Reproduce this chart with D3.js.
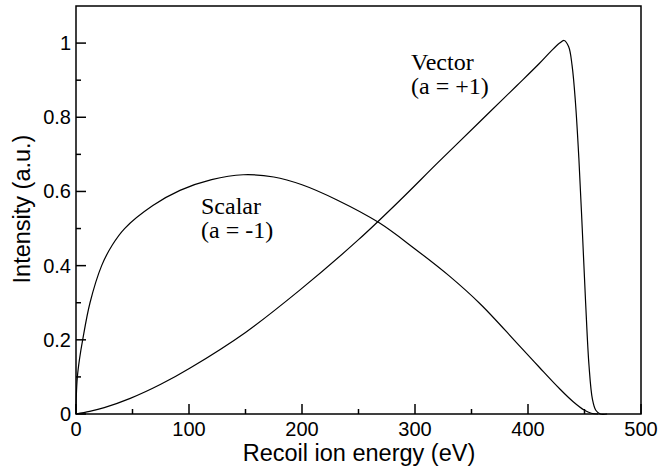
<!DOCTYPE html>
<html>
<head>
<meta charset="utf-8">
<script src="https://cdn.jsdelivr.net/npm/d3@7"></script>
<style>
  body { margin: 0; background: #fff; }
  svg { display: block; }
</style>
</head>
<body>
<svg width="661" height="470"></svg>
<script>
// recoil spectra
const scalarEnergy = [0, 0.3, 1.2, 3.2, 5.9, 12.4, 22.7, 32, 43, 68, 92, 120, 148, 175, 200, 231, 268, 300, 330, 358, 390, 410, 428, 440, 450, 456, 462];
const scalarIntensity = [0, 0.05, 0.1, 0.15, 0.2, 0.3, 0.4, 0.455, 0.5, 0.562, 0.603, 0.632, 0.645, 0.639, 0.618, 0.577, 0.516, 0.445, 0.373, 0.296, 0.192, 0.126, 0.068, 0.033, 0.01, 0.002, 0];

const vectorEnergy = [0, 12, 25, 48, 75, 101, 150, 198, 250, 287, 320, 358, 390, 410, 420, 428, 432, 436, 439, 442, 445, 448, 451, 454, 457, 460, 464, 470];
const vectorIntensity = [0, 0.007, 0.017, 0.042, 0.08, 0.124, 0.22, 0.334, 0.47, 0.577, 0.677, 0.79, 0.885, 0.945, 0.977, 1.0, 1.007, 0.99, 0.94, 0.84, 0.69, 0.5, 0.3, 0.13, 0.04, 0.01, 0, 0];

const xTicks = [0, 100, 200, 300, 400, 500];
const xMinor = [50, 150, 250, 350, 450];
const yTicks = [0, 0.2, 0.4, 0.6, 0.8, 1];
const yMinor = [0.1, 0.3, 0.5, 0.7, 0.9];

const svg = d3.select("svg");
const plotLeft = 76, plotRight = 641, plotTop = 6, plotBottom = 414;

const x = d3.scaleLinear().domain([0, 500]).range([plotLeft, plotRight]);
const y = d3.scaleLinear().domain([0, 1.1]).range([plotBottom, plotTop]);

const sans = "Liberation Sans, Arial, Helvetica, sans-serif";
const serif = "Liberation Serif, Times New Roman, serif";

// frame
svg.append("rect")
    .attr("x", plotLeft).attr("y", plotTop)
    .attr("width", plotRight - plotLeft).attr("height", plotBottom - plotTop)
    .attr("fill", "none")
    .attr("stroke", "#000")
    .attr("stroke-width", 1.5);

// ticks point inward
const tickGroup = svg.append("g")
    .attr("stroke", "#000")
    .attr("stroke-width", 1.5);

tickGroup.selectAll(".xt")
    .data(xTicks.map(v => [v, 10]).concat(xMinor.map(v => [v, 5])))
    .enter().append("line")
    .attr("x1", d => x(d[0])).attr("x2", d => x(d[0]))
    .attr("y1", plotBottom).attr("y2", d => plotBottom - d[1]);

tickGroup.selectAll(".yt")
    .data(yTicks.map(v => [v, 10]).concat(yMinor.map(v => [v, 5])))
    .enter().append("line")
    .attr("y1", d => y(d[0])).attr("y2", d => y(d[0]))
    .attr("x1", plotLeft).attr("x2", d => plotLeft + d[1]);

// tick labels
svg.append("g")
    .attr("font-family", sans)
    .attr("font-size", 20)
    .attr("text-anchor", "middle")
    .selectAll("text")
    .data(xTicks)
    .enter().append("text")
    .attr("x", d => x(d))
    .attr("y", 436)
    .text(d => d);

svg.append("g")
    .attr("font-family", sans)
    .attr("font-size", 20)
    .attr("text-anchor", "end")
    .selectAll("text")
    .data(yTicks)
    .enter().append("text")
    .attr("x", plotLeft - 5)
    .attr("y", d => y(d) + 7)
    .text(d => d3.format("~g")(d));

// axis titles
svg.append("text")
    .attr("x", 359)
    .attr("y", 461)
    .attr("text-anchor", "middle")
    .attr("font-family", sans)
    .attr("font-size", 23.5)
    .text("Recoil ion energy (eV)");

svg.append("text")
    .attr("transform", "translate(30, 209) rotate(-90)")
    .attr("text-anchor", "middle")
    .attr("font-family", sans)
    .attr("font-size", 23.5)
    .text("Intensity (a.u.)");

// curves
const line = d3.line()
    .x(d => x(d[0]))
    .y(d => y(d[1]))
    .curve(d3.curveCatmullRom.alpha(0.5));

const curves = [
    d3.zip(scalarEnergy, scalarIntensity),
    d3.zip(vectorEnergy, vectorIntensity)
];

svg.append("g")
    .attr("fill", "none")
    .attr("stroke", "#000")
    .attr("stroke-width", 1.2)
    .attr("stroke-linejoin", "round")
    .selectAll("path")
    .data(curves)
    .enter().append("path")
    .attr("d", line);

// curve labels, one text per line
function label(lines, px, py) {
    svg.append("g")
        .attr("font-family", serif)
        .attr("font-size", 24)
        .selectAll("text")
        .data(lines)
        .enter().append("text")
        .attr("x", px)
        .attr("y", (d, i) => py + i * 24)
        .text(d => d);
}

label(["Vector", "(a = +1)"], 411, 70);
label(["Scalar", "(a = -1)"], 201, 214);
</script>
</body>
</html>
